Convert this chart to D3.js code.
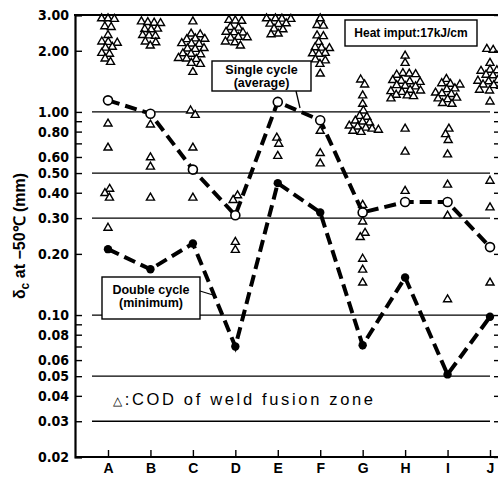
<!DOCTYPE html>
<html>
<head>
<meta charset="utf-8">
<script src="https://cdn.jsdelivr.net/npm/d3@7"></script>
<style>
  body { margin: 0; background: #fff; }
  svg { display: block; }
</style>
</head>
<body>
<svg id="chart" width="498" height="477"></svg>
<script>
// categories (steels) along the x axis
var categories = ["A", "B", "C", "D", "E", "F", "G", "H", "I", "J"]

// dc at -50C (mm)
var singleAvg = [1.14, 0.98, 0.52, 0.31, 1.12, 0.91, 0.32, 0.36, 0.36, 0.216]
var doubleMin = [0.211, 0.168, 0.225, 0.07, 0.446, 0.32, 0.071, 0.153, 0.051, 0.098]

// COD of weld fusion zone, one array per steel
var codA = [2.9, 2.9, 2.88, 2.65, 2.63, 2.4, 2.23, 2.22, 2.2, 2.1, 2.08, 1.96, 1.94, 1.84, 1.77,
            0.88, 0.67, 0.42, 0.40, 0.38, 0.27]
var codB = [2.8, 2.78, 2.76, 2.75, 2.58, 2.57, 2.56, 2.4, 2.39, 2.38, 2.23, 2.21, 2.13,
            0.87, 0.60, 0.54, 0.38]
var codC = [2.8, 2.44, 2.42, 2.31, 2.3, 2.29, 2.19, 2.18, 2.17, 2.07, 2.06, 2.05, 1.95, 1.94, 1.93,
            1.85, 1.84, 1.83, 1.75, 1.73, 1.58, 1.02, 0.97, 0.67, 0.38]
var codD = [2.85, 2.83, 2.82, 2.63, 2.61, 2.49, 2.48, 2.47, 2.35, 2.34, 2.33, 2.23, 2.21, 2.13,
            0.39, 0.37, 0.23, 0.21]
var codE = [2.9, 2.9, 2.89, 2.88, 2.74, 2.73, 2.72, 2.58, 2.56, 2.44, 2.42,
            0.75, 0.70, 0.61]
var codF = [2.9, 2.69, 2.67, 2.39, 2.37, 2.22, 2.09, 2.08, 2.07, 1.96, 1.95, 1.94, 1.82, 1.8, 1.73, 1.55,
            0.81, 0.63, 0.56]
var codG = [1.45, 1.37, 1.21, 1.1, 1.02, 0.96, 0.95, 0.91, 0.9, 0.89, 0.86, 0.85, 0.84, 0.83, 0.82, 0.81, 0.8,
            0.35, 0.29, 0.255, 0.243, 0.19, 0.168, 0.145]
var codH = [1.9, 1.75, 1.56, 1.55, 1.54, 1.53, 1.44, 1.43, 1.42, 1.41, 1.36, 1.35, 1.34,
            1.29, 1.28, 1.27, 1.26, 1.22, 1.21, 1.2, 1.17, 0.83, 0.64, 0.41]
var codI = [1.46, 1.39, 1.38, 1.37, 1.31, 1.3, 1.25, 1.24, 1.23, 1.18, 1.17, 1.16, 1.11, 1.1,
            0.83, 0.78, 0.73, 0.62, 0.44, 0.31, 0.12]
var codJ = [2.05, 2.03, 1.75, 1.62, 1.61, 1.6, 1.53, 1.52, 1.51, 1.44, 1.43, 1.42, 1.37, 1.36, 1.35,
            1.29, 1.28, 1.13, 0.46, 0.34, 0.145]

// axis ticks
var yTicks = [3, 2, 1, 0.9, 0.8, 0.7, 0.6, 0.5, 0.4, 0.3, 0.2, 0.1, 0.09, 0.08, 0.07, 0.06, 0.05, 0.04, 0.03, 0.02]
var yLabeled = [3, 2, 1, 0.8, 0.6, 0.5, 0.4, 0.3, 0.2, 0.1, 0.08, 0.06, 0.05, 0.04, 0.03, 0.02]
var gridValues = [1, 0.5, 0.3, 0.1, 0.05, 0.03]

var svg = d3.select("svg#chart")
var plotLeft = 75, plotRight = 498, plotTop = 15, plotBottom = 457

var x = d3.scalePoint().domain(categories).range([108, 490])
var y = d3.scaleLog().domain([0.02, 3]).range([plotBottom, plotTop])

// grid lines
svg.append("g").selectAll("line").data(gridValues).enter().append("line")
    .attr("x1", 92).attr("x2", 490)
    .attr("y1", function(d) { return y(d) }).attr("y2", function(d) { return y(d) })
    .attr("stroke", "#000").attr("stroke-width", 1.3)

// triangles, spread sideways like a beeswarm so they don't sit on one another
var codLists = [codA, codB, codC, codD, codE, codF, codG, codH, codI, codJ]
var tri = []
codLists.forEach(function(list, ci) {
    list.forEach(function(v, i) {
        tri.push({ cat: categories[ci], v: v, x: x(categories[ci]) + ((i % 5) - 2) * 1.5, fy: y(v) })
    })
})
var sim = d3.forceSimulation(tri)
    .force("x", d3.forceX(function(d) { return x(d.cat) }).strength(0.15))
    .force("collide", d3.forceCollide(3.2))
    .stop()
for (var k = 0; k < 300; k++) sim.tick()

var triangle = d3.symbol().type(d3.symbolTriangle).size(28)
svg.append("g").selectAll("path").data(tri).enter().append("path")
    .attr("d", triangle)
    .attr("transform", function(d) { return "translate(" + d.x + "," + (d.fy + 0.5) + ")" })
    .attr("fill", "#fff").attr("stroke", "#000").attr("stroke-width", 1.4)

// dashed lines
var line = d3.line()
    .x(function(d, i) { return x(categories[i]) })
    .y(function(d) { return y(d) })

function dashed(values) {
    svg.append("path").datum(values)
        .attr("d", line)
        .attr("fill", "none").attr("stroke", "#000")
        .attr("stroke-width", 4).attr("stroke-dasharray", "12,6")
}
dashed(singleAvg)
dashed(doubleMin)

svg.append("g").selectAll("circle").data(singleAvg).enter().append("circle")
    .attr("cx", function(d, i) { return x(categories[i]) })
    .attr("cy", function(d) { return y(d) })
    .attr("r", 4.5).attr("fill", "#fff").attr("stroke", "#000").attr("stroke-width", 1.6)

svg.append("g").selectAll("circle").data(doubleMin).enter().append("circle")
    .attr("cx", function(d, i) { return x(categories[i]) })
    .attr("cy", function(d) { return y(d) })
    .attr("r", 4.2).attr("fill", "#000")

// axes
var yAxis = d3.axisLeft(y).tickValues(yTicks).tickSize(-7).tickPadding(6)
    .tickFormat(function(d) { return yLabeled.indexOf(d) >= 0 ? d3.format(".2f")(d) : "" })
var gy = svg.append("g").attr("transform", "translate(" + plotLeft + ",0)").call(yAxis)
gy.select(".domain").attr("stroke-width", 2.2)
gy.selectAll(".tick line").attr("stroke-width", 1.4)
gy.selectAll("text")
    .style("font-family", "'DejaVu Sans Condensed', 'DejaVu Sans', sans-serif")
    .style("font-weight", "bold").style("font-size", "14px").attr("fill", "#000")

var gr = svg.append("g").attr("transform", "translate(" + plotRight + ",0)")
    .call(d3.axisLeft(y).tickValues(yTicks).tickSize(4).tickFormat(""))
gr.select(".domain").remove()
gr.selectAll(".tick line").attr("stroke-width", 1.4)

var xAxis = d3.axisBottom(x).tickSize(-7).tickPadding(6)
var gx = svg.append("g").attr("transform", "translate(0," + plotBottom + ")").call(xAxis)
gx.select(".domain").attr("d", "M" + plotLeft + ",0H" + plotRight).attr("stroke-width", 2.2)
gx.selectAll(".tick line").attr("stroke-width", 1.4)
gx.selectAll("text")
    .style("font-family", "'Liberation Sans', Arial, sans-serif")
    .style("font-weight", "bold").style("font-size", "14px").attr("fill", "#000")

svg.append("line").attr("x1", plotLeft - 1).attr("x2", plotRight).attr("y1", plotTop).attr("y2", plotTop)
    .attr("stroke", "#000").attr("stroke-width", 2.2)

// y title
var title = svg.append("text")
    .attr("transform", "translate(25,236) rotate(-90)")
    .attr("text-anchor", "middle")
    .style("font-family", "'Liberation Sans', Arial, sans-serif")
    .style("font-weight", "bold").style("font-size", "16px")
title.append("tspan").text("δ")
title.append("tspan").attr("dy", 4).style("font-size", "12px").text("c")
title.append("tspan").attr("dy", -4).text(" at −50℃  (mm)")

// annotation boxes
function box(bx, by, bw, bh, lines, size) {
    svg.append("rect").attr("x", bx).attr("y", by).attr("width", bw).attr("height", bh)
        .attr("fill", "#fff").attr("stroke", "#000").attr("stroke-width", 1.4)
    lines.forEach(function(l) {
        svg.append("text").attr("x", bx + bw / 2).attr("y", l[1])
            .attr("text-anchor", "middle")
            .style("font-family", "'Liberation Sans', Arial, sans-serif")
            .style("font-weight", "bold").style("font-size", size + "px")
            .text(l[0])
    })
}
box(345, 20, 132, 26, [["Heat imput:17kJ/cm", 37]], 12)
box(212, 61, 99, 30, [["Single cycle", 74], ["(average)", 87]], 12.5)
box(102, 277, 98, 42, [["Double cycle", 294], ["(minimum)", 307]], 12.5)

svg.append("line").attr("x1", 296).attr("y1", 91).attr("x2", 300).attr("y2", 108)
    .attr("stroke", "#000").attr("stroke-width", 1.3)
svg.append("line").attr("x1", 200).attr("y1", 291).attr("x2", 213).attr("y2", 295)
    .attr("stroke", "#000").attr("stroke-width", 1.3)

// legend for the triangles
var legend = svg.append("text").attr("x", 113).attr("y", 405)
    .attr("textLength", 260).attr("lengthAdjust", "spacing")
    .style("font-family", "'Liberation Sans', Arial, sans-serif")
    .style("font-size", "16.5px")
legend.append("tspan").style("font-size", "12px").text("△")
legend.append("tspan").text(":COD of weld fusion zone")
</script>
</body>
</html>
